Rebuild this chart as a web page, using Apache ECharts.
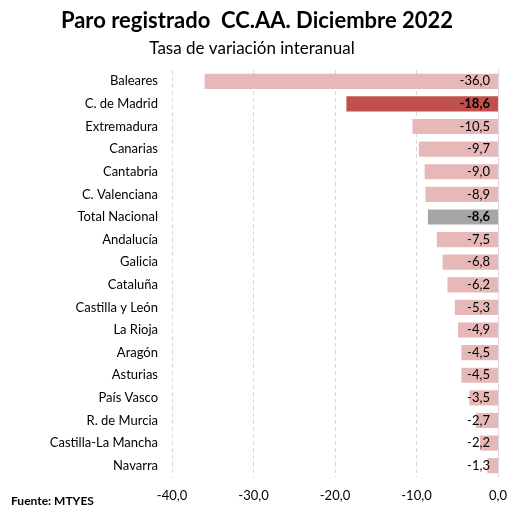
<!DOCTYPE html>
<html>
<head>
<meta charset="utf-8">
<script src="https://cdn.jsdelivr.net/npm/echarts@6/dist/echarts.min.js"></script>
<style>
  html, body { margin: 0; padding: 0; background: #fff; }
  #chart { width: 510px; height: 506px; }
</style>
</head>
<body>
<div id="chart"></div>
<script>
// comunidades, de arriba a abajo
const regions = ['Baleares', 'C. de Madrid', 'Extremadura', 'Canarias', 'Cantabria', 'C. Valenciana',
  'Total Nacional', 'Andalucía', 'Galicia', 'Cataluña', 'Castilla y León', 'La Rioja',
  'Aragón', 'Asturias', 'País Vasco', 'R. de Murcia', 'Castilla-La Mancha', 'Navarra']
const rates = [-36.0, -18.6, -10.5, -9.7, -9.0, -8.9, -8.6, -7.5, -6.8, -6.2, -5.3, -4.9,
  -4.5, -4.5, -3.5, -2.7, -2.2, -1.3]
const xTicks = [-40, -30, -20, -10, 0]

const FONT = 'Lato'
const fmt = (v) => v.toFixed(1).replace('.', ',')

// colores: Madrid y total destacados
const barData = rates.map((v, i) => {
  let color = '#E6B9B8'
  let bold = false
  if (regions[i] === 'C. de Madrid') { color = '#C0504D'; bold = true }
  if (regions[i] === 'Total Nacional') { color = '#A6A6A6'; bold = true }
  return {
    value: v,
    itemStyle: { color },
    label: { fontWeight: bold ? 'bold' : 'normal' }
  }
})

const chart = echarts.init(document.getElementById('chart'))
chart.setOption({
  animation: false,
  textStyle: { fontFamily: FONT },
  title: [
    {
      text: 'Paro registrado  CC.AA. Diciembre 2022',
      left: 252, top: 5, textAlign: 'center',
      textStyle: { fontFamily: FONT, fontSize: 22, fontWeight: 'bold', color: '#000' }
    },
    {
      text: 'Tasa de variación interanual',
      left: 247, top: 35, textAlign: 'center',
      textStyle: { fontFamily: FONT, fontSize: 17, fontWeight: 'normal', color: '#000' }
    },
    {
      text: 'Fuente: MTYES',
      left: 6, top: 490,
      textStyle: { fontFamily: FONT, fontSize: 12, fontWeight: 'bold', color: '#000' }
    }
  ],
  grid: { left: 172, right: 11, top: 70, bottom: 29, containLabel: false },
  xAxis: {
    type: 'value',
    min: xTicks[0],
    max: xTicks[xTicks.length - 1],
    interval: 10,
    axisLine: { show: false },
    axisTick: { show: false },
    axisLabel: {
      formatter: (v) => fmt(v),
      color: '#000', fontSize: 13, fontFamily: FONT, margin: 12
    },
    splitLine: { show: true, lineStyle: { color: '#D9D9D9', type: [4, 3] } }
  },
  yAxis: {
    type: 'category',
    data: regions,
    inverse: true,
    position: 'right',
    axisLine: { show: true, onZero: false, lineStyle: { color: '#D9D9D9' } },
    axisTick: { show: false },
    axisLabel: { show: false }
  },
  series: [
    {
      type: 'bar',
      data: barData,
      barCategoryGap: '33%',
      label: {
        show: true,
        position: 'insideRight',
        distance: 8,
        formatter: (p) => fmt(p.value),
        color: '#000', fontSize: 13, fontFamily: FONT
      }
    }
  ]
})

// nombres de las comunidades alineados a la derecha en x=158
const names = regions.map((r) => {
  const y = chart.convertToPixel({ yAxisIndex: 0 }, r)
  return {
    type: 'text',
    x: 158,
    y: y,
    style: {
      text: r, fill: '#000', align: 'right', verticalAlign: 'middle',
      fontFamily: FONT, fontSize: 13
    }
  }
})
chart.setOption({ graphic: names })
</script>
</body>
</html>
